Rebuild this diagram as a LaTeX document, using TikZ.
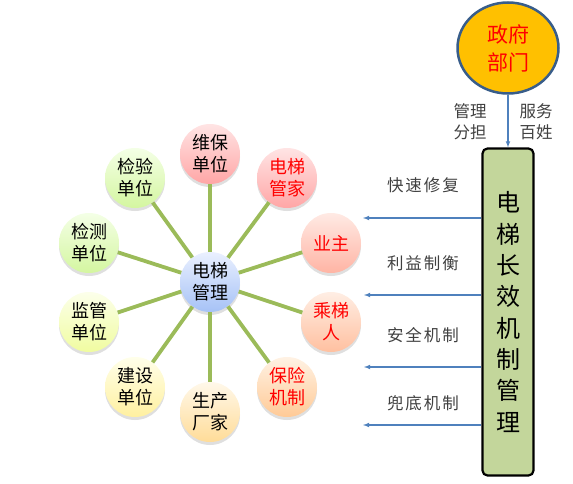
\documentclass[tikz,border=0pt]{standalone}
\usepackage{fontspec}
\setmainfont{Noto Sans CJK SC}
\newfontfamily\lblfont[LetterSpace=12]{Noto Sans CJK SC}
\usetikzlibrary{shadows,positioning,shapes.geometric}

\definecolor{spokegreen}{HTML}{9BBB59}
\definecolor{arrblue}{HTML}{4F81BD}
\definecolor{govfill}{HTML}{FFC000}
\definecolor{govline}{HTML}{385D8A}
\definecolor{boxfill}{HTML}{C3D69B}
% gradient ends of the balls
\definecolor{hubtop}{HTML}{EAF0FF}
\definecolor{hubbot}{HTML}{A6C2F6}
\definecolor{pinktop}{HTML}{FFE4E4}
\definecolor{pinkbot}{HTML}{FFA6A6}
\definecolor{salmtop}{HTML}{FFEAE4}
\definecolor{salmbot}{HTML}{FFB4A4}
\definecolor{peachtop}{HTML}{FFEEE4}
\definecolor{peachbot}{HTML}{FFC0A0}
\definecolor{oratop}{HTML}{FFF2E4}
\definecolor{orabot}{HTML}{FFCA96}
\definecolor{creamtop}{HTML}{FFF8EA}
\definecolor{creambot}{HTML}{FFDC98}
\definecolor{yeltop}{HTML}{FFFFEA}
\definecolor{yelbot}{HTML}{FFF0A0}
\definecolor{limetop}{HTML}{FCFFEA}
\definecolor{limebot}{HTML}{F0FCA0}
\definecolor{greentop}{HTML}{F4FFE6}
\definecolor{greenbot}{HTML}{D4F6A0}

\begin{document}
\begin{tikzpicture}[x=1pt, y=-1pt,
    ball/.style={circle, minimum size=60pt, inner sep=0pt, align=center,
        font=\fontsize{18}{22}\selectfont,
        drop shadow={shadow xshift=0pt, shadow yshift=-3pt, opacity=0.25}},
    spoke/.style={draw=spokegreen, line width=3.8pt},
    arr/.style={draw=arrblue, line width=1.1pt, -latex},
    lbl/.style={font=\fontsize{16.5}{21}\selectfont, text=black!75, align=center},
    wlbl/.style={font=\lblfont\fontsize{16.5}{21}\selectfont, text=black!75}]

    \useasboundingbox (0,0) rectangle (573,484);

    % hub and the ring round it
    \node[ball, top color=hubtop, bottom color=hubbot] (hub) at (210,282) {电梯\\管理};

    \node[ball, top color=pinktop, bottom color=pinkbot] (weibao) at (210,154) {维保\\单位};
    \node[ball, top color=pinktop, bottom color=pinkbot, text=red] (guanjia) at (287,178) {电梯\\管家};
    \node[ball, top color=salmtop, bottom color=salmbot, text=red] (yezhu) at (331,243) {业主};
    \node[ball, top color=peachtop, bottom color=peachbot, text=red] (chengti) at (331,322) {乘梯\\人};
    \node[ball, top color=oratop, bottom color=orabot, text=red] (baoxian) at (287,387) {保险\\机制};
    \node[ball, top color=creamtop, bottom color=creambot] (shengchan) at (210,412) {生产\\厂家};
    \node[ball, top color=yeltop, bottom color=yelbot] (jianshe) at (135,387) {建设\\单位};
    \node[ball, top color=limetop, bottom color=limebot] (jianguan) at (89,322) {监管\\单位};
    \node[ball, top color=greentop, bottom color=greenbot] (jiance) at (89,243) {检测\\单位};
    \node[ball, top color=greentop, bottom color=greenbot] (jianyan) at (135,178) {检验\\单位};

    \draw[spoke] (hub) -- (weibao);
    \draw[spoke] (hub) -- (guanjia);
    \draw[spoke] (hub) -- (yezhu);
    \draw[spoke] (hub) -- (chengti);
    \draw[spoke] (hub) -- (baoxian);
    \draw[spoke] (hub) -- (shengchan);
    \draw[spoke] (hub) -- (jianshe);
    \draw[spoke] (hub) -- (jianguan);
    \draw[spoke] (hub) -- (jiance);
    \draw[spoke] (hub) -- (jianyan);

    % government and the long-term box
    \node[ellipse, draw=govline, line width=2.5pt, fill=govfill, minimum width=101pt,
        minimum height=91pt, inner sep=0pt, align=center, text=red,
        font=\fontsize{21}{28}\selectfont] (gov) at (508,48) {政府\\部门};
    \node[draw=black, line width=2.2pt, fill=boxfill, rounded corners=5pt,
        minimum width=51pt, minimum height=327pt, inner sep=0pt, align=center,
        font=\fontsize{24}{31.3}\selectfont] (mech) at (508,312)
        {电\\梯\\长\\效\\机\\制\\管\\理};

    \draw[arr] (gov) -- (mech);
    \node[lbl] (fendan) at (470,122) {管理\\分担};
    \node[lbl] (baixing) at (536,122) {服务\\百姓};

    % arrows out of the box
    \coordinate (e1) at (363,218);
    \coordinate (e2) at (364,295);
    \coordinate (e3) at (364,367);
    \coordinate (e4) at (363,425);
    \draw[arr] (mech.west |- e1) -- (e1);
    \draw[arr] (mech.west |- e2) -- (e2);
    \draw[arr] (mech.west |- e3) -- (e3);
    \draw[arr] (mech.west |- e4) -- (e4);

    \node[wlbl] (kuaisu) at (423,185) {快速修复};
    \node[wlbl] (liyi) at (423,263) {利益制衡};
    \node[wlbl] (anquan) at (423,335) {安全机制};
    \node[wlbl] (doudi) at (423,403) {兜底机制};

\end{tikzpicture}
\end{document}
